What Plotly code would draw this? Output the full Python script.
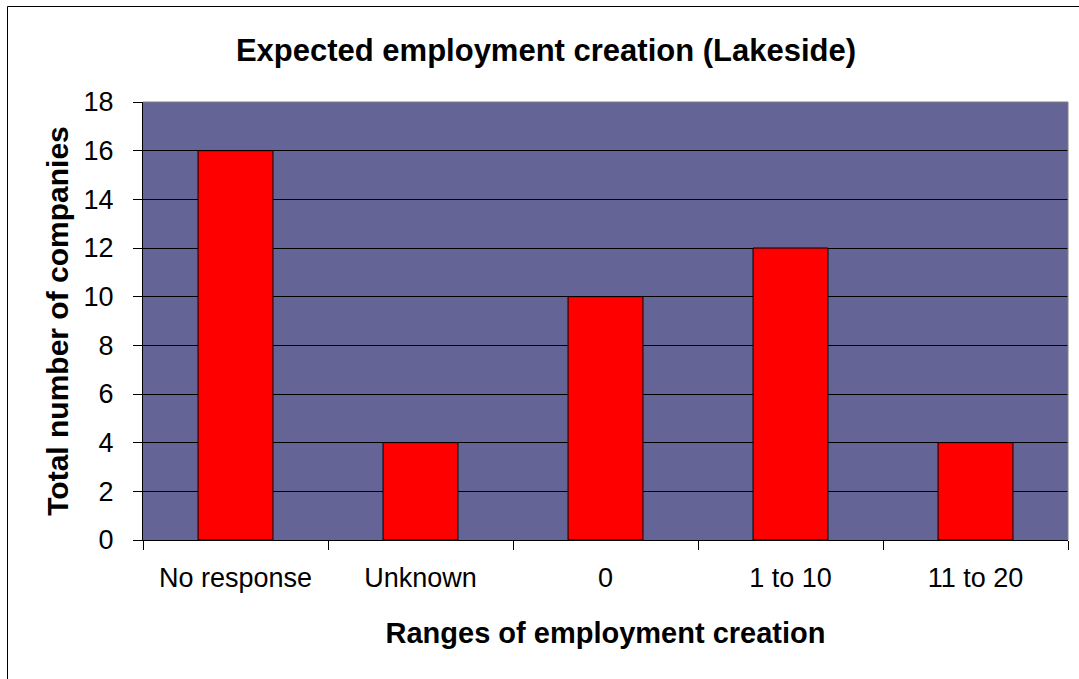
import plotly.graph_objects as go

categories = ["No response", "Unknown", "0", "1 to 10", "11 to 20"]
values = [16, 4, 10, 12, 4]
y_ticks = [0, 2, 4, 6, 8, 10, 12, 14, 16, 18]

W, H = 1079, 679
L, R, T, B = 143, 11, 102, 139
pw, ph = W - L - R, H - T - B

fig = go.Figure(go.Bar(
    x=categories, y=values,
    marker=dict(color="#FF0000", line=dict(color="black", width=1)),
    width=0.405,
))

font = "Liberation Sans, Arial, sans-serif"

fig.update_layout(
    width=W, height=H,
    margin=dict(l=L, r=R, t=T, b=B),
    paper_bgcolor="white",
    plot_bgcolor="#646496",
    showlegend=False,
    font=dict(family=font, color="black", size=27),
    title=dict(text="<b>Expected employment creation (Lakeside)</b>",
               x=(546) / W, xanchor="center", y=1 - 50 / H, yanchor="middle",
               yref="container", xref="container",
               font=dict(size=31, family=font, color="black")),
    xaxis=dict(type="category", tickson="boundaries", ticks="outside", ticklen=9,
               tickcolor="black", showline=True, linecolor="black", linewidth=1,
               showgrid=False, tickfont=dict(size=27), ticklabelstandoff=14,
               title=dict(text="<b>Ranges of employment creation</b>", standoff=30,
                          font=dict(size=29))),
    yaxis=dict(range=[0, 18], tickvals=y_ticks, ticks="outside", ticklen=9,
               tickcolor="black", showline=True, linecolor="black", linewidth=1,
               showgrid=True, gridcolor="black", gridwidth=1, zeroline=False,
               tickfont=dict(size=27), ticklabelstandoff=14,
               title=dict(text="<b>Total number of companies</b>", standoff=6,
                          font=dict(size=30))),
    shapes=[
        dict(type="line", xref="paper", yref="paper", x0=0, x1=1, y0=1, y1=1,
             line=dict(color="#808080", width=1)),
        dict(type="line", xref="paper", yref="paper", x0=1, x1=1, y0=0, y1=1,
             line=dict(color="#808080", width=1)),
        dict(type="rect", xref="paper", yref="paper",
             x0=(7.5 - L) / pw, x1=1.2, y0=-0.6, y1=(H - B - 6.5) / ph,
             line=dict(color="black", width=1)),
    ],
)

fig.write_html("out.html", config={"displayModeBar": False},
               post_script="document.body.style.margin='0';")
